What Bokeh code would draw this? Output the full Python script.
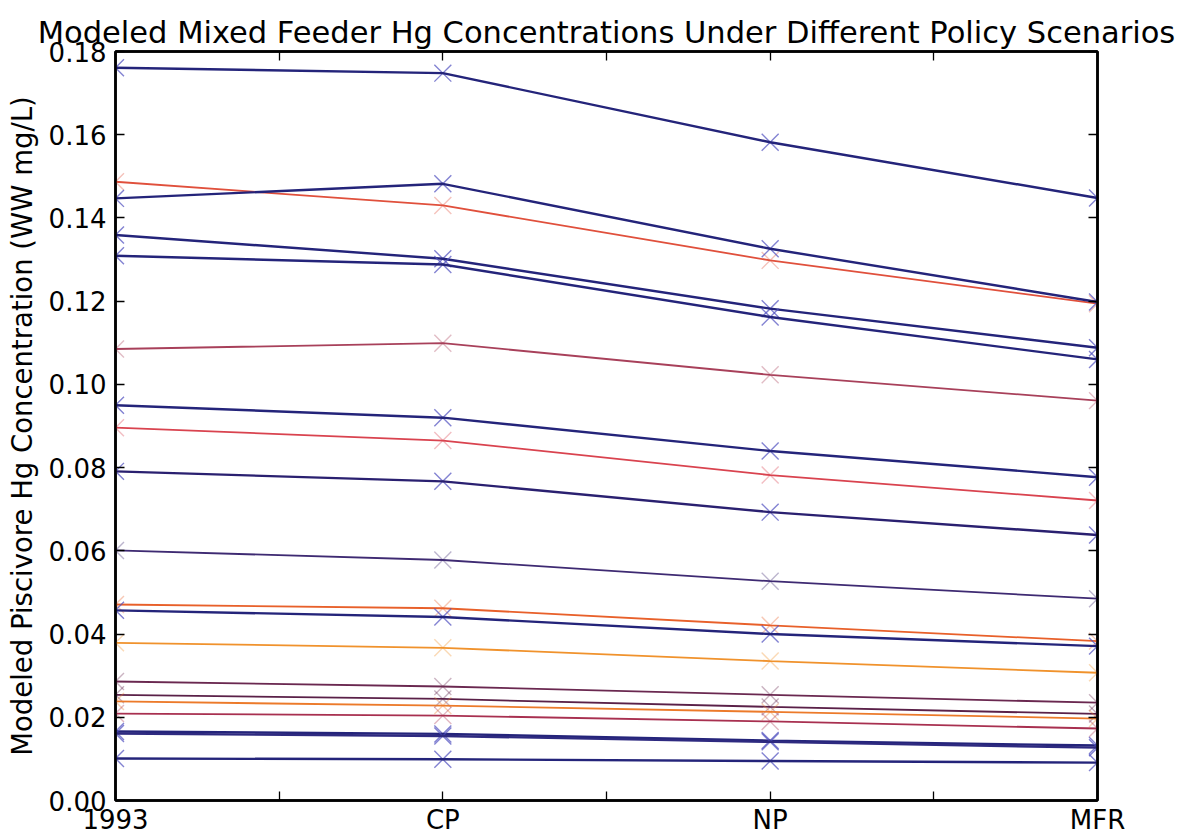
from bokeh.plotting import figure
from bokeh.models import LinearAxis, FixedTicker, NumeralTickFormatter, CustomJSTickFormatter, Range1d, ColumnDataSource
from bokeh.embed import file_html
from bokeh.resources import INLINE

# ---------------- data ----------------
scenarios = ["1993", "CP", "NP", "MFR"]
y_tick_values = [0.00, 0.02, 0.04, 0.06, 0.08, 0.10, 0.12, 0.14, 0.16, 0.18]

lake_01 = [0.1761, 0.1748, 0.1582, 0.1448]
lake_02 = [0.1487, 0.1430, 0.1298, 0.1194]
lake_03 = [0.1447, 0.1482, 0.1326, 0.1198]
lake_04 = [0.1359, 0.1302, 0.1182, 0.1088]
lake_05 = [0.1309, 0.1288, 0.1162, 0.1060]
lake_06 = [0.1085, 0.1099, 0.1023, 0.0961]
lake_07 = [0.0950, 0.0920, 0.0840, 0.0777]
lake_08 = [0.0896, 0.0865, 0.0782, 0.0721]
lake_09 = [0.0791, 0.0767, 0.0693, 0.0638]
lake_10 = [0.0601, 0.0578, 0.0527, 0.0485]
lake_11 = [0.0471, 0.0462, 0.0421, 0.0383]
lake_12 = [0.0457, 0.0441, 0.0400, 0.0371]
lake_13 = [0.0379, 0.0367, 0.0335, 0.0307]
lake_14 = [0.0286, 0.0274, 0.0254, 0.0235]
lake_15 = [0.0254, 0.0244, 0.0225, 0.0208]
lake_16 = [0.0238, 0.0228, 0.0213, 0.0197]
lake_17 = [0.0209, 0.0204, 0.0190, 0.0173]
lake_18 = [0.0166, 0.0160, 0.0144, 0.0132]
lake_19 = [0.0161, 0.0155, 0.0141, 0.0127]
lake_20 = [0.0101, 0.0099, 0.0095, 0.0091]

series = [lake_01, lake_02, lake_03, lake_04, lake_05, lake_06, lake_07,
          lake_08, lake_09, lake_10, lake_11, lake_12, lake_13, lake_14,
          lake_15, lake_16, lake_17, lake_18, lake_19, lake_20]

# ---------------- style ----------------
NAVY = "#24247a"
NAVY2 = "#2a2070"
NAVY3 = "#2e2a80"
BLUES = (NAVY, NAVY2, NAVY3)
line_colors = [NAVY, "#e0503c", NAVY, NAVY, NAVY, "#a8405a", NAVY,
               "#d9434f", NAVY2, "#3e2a72", "#e8602a", NAVY, "#f0922c",
               "#6a2850", "#5a2048", "#ec7a2a", "#a83050", NAVY, NAVY3, NAVY]
marker_colors = ["#4f4fbf" if c in BLUES else c for c in line_colors]

FONT = "DejaVu Sans"

p = figure(frame_width=982, frame_height=749,
           x_range=Range1d(0, len(scenarios) - 1), y_range=Range1d(0, 0.18),
           output_backend="svg", toolbar_location=None,
           min_border_left=115, min_border_top=51, min_border_right=92, min_border_bottom=36,
           background_fill_color="white", border_fill_color="white")

p.title.text = "Modeled Mixed Feeder Hg Concentrations Under Different Policy Scenarios"
p.title.text_font = FONT
p.title.text_font_size = "30.5px"
p.title.text_font_style = "normal"
p.title.text_color = "black"
p.title.align = "center"
p.title.offset = 0
p.title.standoff = 4

p.xgrid.visible = False
p.ygrid.visible = False
p.outline_line_color = "black"
p.outline_line_width = 2.5

xs = list(range(len(scenarios)))
x_minor = [i + 0.5 for i in xs[:-1]]


def style_axis(ax):
    ax.axis_line_color = "black"
    ax.axis_line_width = 2.5
    ax.major_tick_in = 9
    ax.major_tick_out = 0
    ax.minor_tick_in = 9
    ax.minor_tick_out = 0
    ax.major_tick_line_color = "black"
    ax.minor_tick_line_color = "black"
    ax.major_tick_line_width = 1.3
    ax.minor_tick_line_width = 1.3
    ax.major_label_text_font = FONT
    ax.major_label_text_font_size = "26px"
    ax.major_label_text_color = "black"


# bottom axis
xa = p.xaxis[0]
xa.ticker = FixedTicker(ticks=xs, minor_ticks=x_minor)
xa.major_label_overrides = {i: s for i, s in enumerate(scenarios)}
style_axis(xa)
xa.major_label_standoff = 4

ya = p.yaxis[0]
ya.ticker = FixedTicker(ticks=y_tick_values)
ya.formatter = NumeralTickFormatter(format="0.00")
style_axis(ya)
ya.major_label_standoff = 9
ya.axis_label = "Modeled Piscivore Hg Concentration (WW mg/L)"
ya.axis_label_text_font = FONT
ya.axis_label_text_font_size = "27.5px"
ya.axis_label_text_font_style = "normal"
ya.axis_label_text_color = "black"
ya.axis_label_standoff = 8

empty = CustomJSTickFormatter(code="return ''")
top = LinearAxis(ticker=FixedTicker(ticks=xs, minor_ticks=x_minor), formatter=empty)
style_axis(top)
top.major_label_text_font_size = "1px"
top.major_label_standoff = 0
p.add_layout(top, "above")

right = LinearAxis(ticker=FixedTicker(ticks=y_tick_values), formatter=empty)
style_axis(right)
right.major_label_text_font_size = "1px"
right.major_label_standoff = 0
p.add_layout(right, "right")

for vals, lc, mc in zip(series, line_colors, marker_colors):
    src = ColumnDataSource(dict(x=xs, y=vals))
    blue = lc in BLUES
    p.scatter("x", "y", source=src, marker="x", size=24, line_color=mc,
              line_width=1.4, line_alpha=0.7 if blue else 0.35)
    p.line("x", "y", source=src, line_color=lc, line_width=2.4 if blue else 1.8)

open("out.html", "w").write(file_html(p, INLINE))
